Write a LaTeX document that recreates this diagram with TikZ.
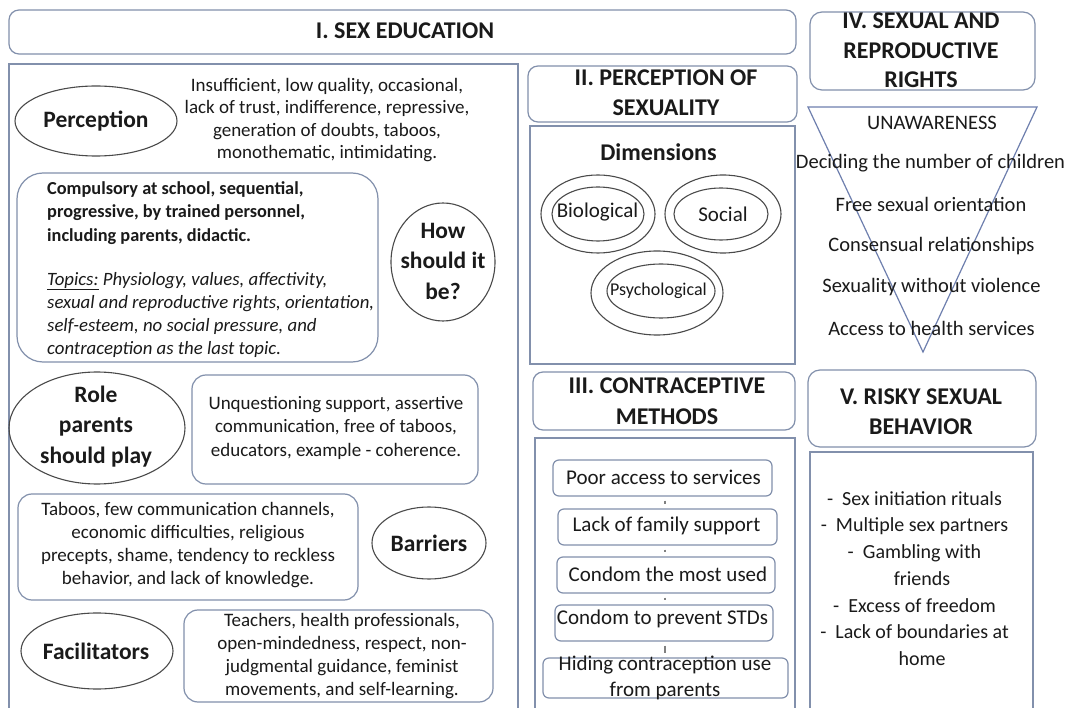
\documentclass[tikz,border=0pt]{standalone}
\usepackage{fontspec}
\setmainfont{Carlito}
\usetikzlibrary{shapes.geometric}
\definecolor{boxline}{HTML}{8290AC}
\definecolor{ellline}{HTML}{4A4A4A}
\definecolor{triline}{HTML}{6E7FAE}
\definecolor{txt}{HTML}{1A1A1A}
\tikzset{
  every node/.style={text=txt},
  body/.style={font=\fontsize{19}{23}\selectfont, align=center, inner sep=0},
  bodybold/.style={font=\bfseries\fontsize{18.3}{23.5}\selectfont, align=left, inner sep=0},
  bodyital/.style={font=\itshape\fontsize{18.8}{23.3}\selectfont, align=left, inner sep=0},
  head/.style={font=\bfseries\fontsize{24}{30.5}\selectfont, align=center, inner sep=0},
  ovalhead/.style={font=\bfseries\fontsize{23.5}{30.5}\selectfont, align=center, inner sep=0},
  steptext/.style={font=\fontsize{21}{26}\selectfont, align=center, inner sep=0},
  tritext/.style={font=\fontsize{20.5}{24}\selectfont, inner sep=0},
  rbox/.style={draw=boxline, line width=1.2pt, rounded corners=14pt, rectangle, inner sep=0},
  frame/.style={draw=boxline, line width=1.4pt},
  oval/.style={draw=ellline, line width=1.1pt, ellipse, inner sep=0},
  stepbox/.style={draw=boxline, line width=1.2pt, rounded corners=6pt, rectangle, inner sep=0, minimum height=36pt},
  tick/.style={draw=gray, line width=1.3pt, shorten <=4pt, shorten >=4pt},
}
\begin{document}
\begin{tikzpicture}[x=1pt,y=-1pt]
\useasboundingbox (0,0) rectangle (1066,708);
\fill[white] (0,0) rectangle (1066,708);

% ---------- I. SEX EDUCATION ----------
\node[rbox, minimum width=787pt, minimum height=44pt, rounded corners=10pt] (h1) at (402.5,32) {};
\node[head] (h1t) at (405,31) {I. SEX EDUCATION};
\draw[frame] (9,715) -- (9,64) -- (518,64) -- (518,715);
\coordinate (f1) at (9,64);

\node[oval, minimum width=162pt, minimum height=70pt] (perc) at (96,121) {};
\node[ovalhead] (perct) at (96,121) {Perception};
\node[body, font=\fontsize{19}{22.6}\selectfont] (perctext) at (327,120) {Insufficient, low quality, occasional,\\lack of trust, indifference, repressive,\\generation of doubts, taboos,\\monothematic, intimidating.};

\node[rbox, rounded corners=26pt, minimum width=361pt, minimum height=189pt] (comp) at (197.5,267.5) {};
\node[bodybold, anchor=west] (compb) at (47,213) {Compulsory at school, sequential,\\progressive, by trained personnel,\\including parents, didactic.};
\node[bodyital, anchor=west] (compi) at (47,315) {\underline{Topics:} Physiology, values, affectivity,\\sexual and reproductive rights, orientation,\\self-esteem, no social pressure, and\\contraception as the last topic.};

\node[oval, minimum width=104pt, minimum height=118pt] (how) at (443,262) {};
\node[ovalhead] (howt) at (443,261) {How\\should it\\be?};

\node[oval, minimum width=176pt, minimum height=112pt] (role) at (97,428) {};
\node[ovalhead] (rolet) at (96,426.5) {Role\\parents\\should play};
\node[rbox, minimum width=286pt, minimum height=109pt] (roleb) at (335,429.5) {};
\node[body, font=\fontsize{19}{23.5}\selectfont] (rolebt) at (336,427.5) {Unquestioning support, assertive\\communication, free of taboos,\\educators, example - coherence.};

\node[rbox, minimum width=340pt, minimum height=106pt] (barb) at (188,547) {};
\node[body] (barbt) at (188,545.5) {Taboos, few communication channels,\\economic difficulties, religious\\precepts, shame, tendency to reckless\\behavior, and lack of knowledge.};
\node[oval, minimum width=114pt, minimum height=72pt] (bar) at (429,543) {};
\node[ovalhead] (bart) at (429,543) {Barriers};

\node[oval, minimum width=152pt, minimum height=76pt] (fac) at (97,651) {};
\node[ovalhead] (fact) at (96,651) {Facilitators};
\node[rbox, minimum width=309pt, minimum height=92pt] (facb) at (338.5,656) {};
\node[body, font=\fontsize{19}{22.7}\selectfont] (facbt) at (342,656) {Teachers, health professionals,\\open-mindedness, respect, non-\\judgmental guidance, feminist\\movements, and self-learning.};

% ---------- II. PERCEPTION OF SEXUALITY ----------
\node[rbox, minimum width=269pt, minimum height=56pt, rounded corners=10pt] (h2) at (662.5,94) {};
\node[head] (h2t) at (666,92.5) {II. PERCEPTION OF\\SEXUALITY};
\node[frame, rectangle, minimum width=265pt, minimum height=238pt, inner sep=0] (dim) at (662.5,245) {};
\node[head] (dimt) at (658.5,152) {Dimensions};

\node[oval, minimum width=114pt, minimum height=78pt] (bioo) at (598,214) {};
\node[oval, minimum width=92pt, minimum height=54pt] (bioi) at (598,214) {};
\node[font=\fontsize{21}{24}\selectfont, inner sep=0] (biot) at (597.5,212) {Biological};
\node[oval, minimum width=116pt, minimum height=78pt] (soco) at (723,214) {};
\node[oval, minimum width=94pt, minimum height=52pt] (soci) at (721,214) {};
\node[font=\fontsize{21}{24}\selectfont, inner sep=0] (soct) at (723,214) {Social};
\node[oval, minimum width=132pt, minimum height=84pt] (psyo) at (657,293) {};
\node[oval, minimum width=108pt, minimum height=54pt] (psyi) at (661,291) {};
\node[font=\fontsize{18}{20}\selectfont, inner sep=0] (psyt) at (658.5,291) {Psychological};

% ---------- III. CONTRACEPTIVE METHODS ----------
\node[rbox, minimum width=262pt, minimum height=58pt, rounded corners=10pt] (h3) at (664,401) {};
\node[head] (h3t) at (667,401) {III. CONTRACEPTIVE\\METHODS};
\draw[frame] (535,715) -- (535,438) -- (795,438) -- (795,715);
\coordinate (f3) at (535,438);

\node[stepbox, minimum width=219pt] (c1) at (662.5,478) {};
\node[steptext] (c1t) at (663.5,477) {Poor access to services};
\node[stepbox, minimum width=219pt] (c2) at (667.5,527) {};
\node[steptext] (c2t) at (666.5,526) {Lack of family support};
\node[stepbox, minimum width=218pt] (c3) at (666,575) {};
\node[steptext] (c3t) at (668,574) {Condom the most used};
\node[stepbox, minimum width=218pt] (c4) at (664,623) {};
\node[steptext] (c4t) at (662.5,619) {Condom to prevent STDs};
\node[stepbox, minimum width=245pt, minimum height=40pt] (c5) at (665.5,678) {};
\node[steptext, font=\fontsize{21}{26}\selectfont] (c5t) at (665,678) {Hiding contraception use\\from parents};
\draw[tick] (c1.south -| 665,0) -- (c2.north -| 665,0);
\draw[tick] (c2.south -| 665,0) -- (c3.north -| 665,0);
\draw[tick] (c3.south -| 665,0) -- (c4.north -| 665,0);
\draw[tick] (c4.south -| 665,0) -- (c5.north -| 665,0);

% ---------- IV. SEXUAL AND REPRODUCTIVE RIGHTS ----------
\node[rbox, minimum width=225pt, minimum height=78pt, rounded corners=12pt] (h4) at (922.5,51) {};
\node[head, font=\bfseries\fontsize{24}{29.5}\selectfont] (h4t) at (921,50.5) {IV. SEXUAL AND\\REPRODUCTIVE\\RIGHTS};
\coordinate (t1) at (808,107);
\coordinate (t2) at (1037,107);
\coordinate (t3) at (923,352);
\draw[triline, line width=1.2pt, line join=miter] (t1) -- (t2) -- (t3) -- cycle;
\node[tritext] (r0) at (932,123) {UNAWARENESS};
\node[tritext] (r1) at (930.5,163.5) {Deciding the number of children};
\node[tritext] (r2) at (931,204) {Free sexual orientation};
\node[tritext] (r3) at (931.5,246) {Consensual relationships};
\node[tritext] (r4) at (931.5,287) {Sexuality without violence};
\node[tritext] (r5) at (931.5,328) {Access to health services};

% ---------- V. RISKY SEXUAL BEHAVIOR ----------
\node[rbox, minimum width=228pt, minimum height=77pt, rounded corners=12pt] (h5) at (922,408.5) {};
\node[head] (h5t) at (921,411.5) {V. RISKY SEXUAL\\BEHAVIOR};
\draw[frame] (810,715) -- (810,452) -- (1033,452) -- (1033,715);
\coordinate (f5) at (810,452);
\node[body, font=\fontsize{20}{26.7}\selectfont] (risk) at (922,578.5) {-\ \ Sex initiation rituals\kern15pt\\-\ \ Multiple sex partners\kern15pt\\-\ \ Gambling with\kern15pt\\friends\\-\ \ Excess of freedom\kern15pt\\-\ \ Lack of boundaries at\kern15pt\\home};
\end{tikzpicture}
\end{document}
